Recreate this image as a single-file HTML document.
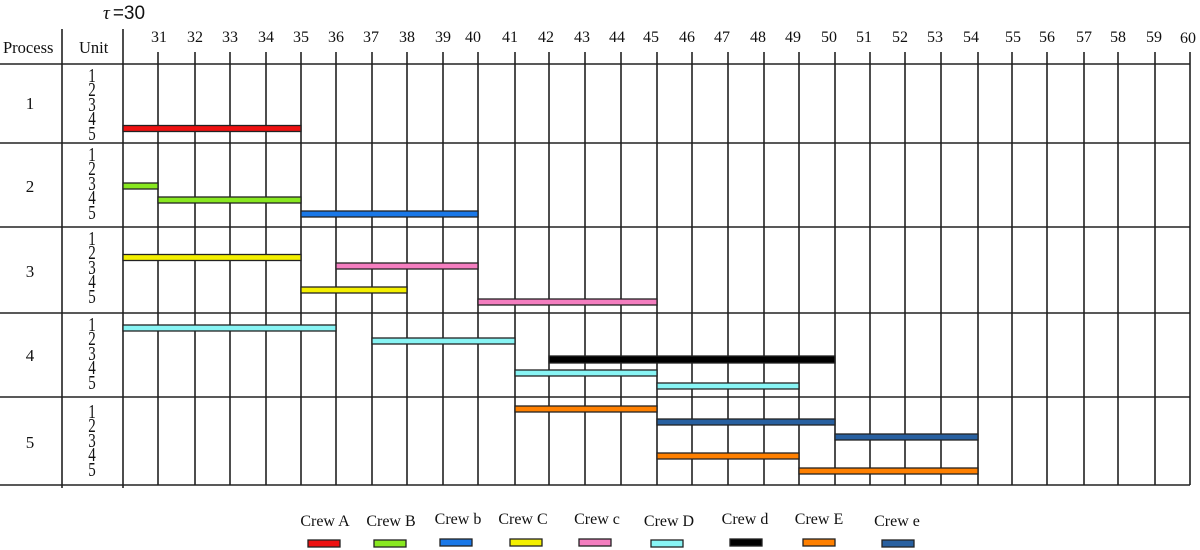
<!DOCTYPE html>
<html><head><meta charset="utf-8"><style>
html,body{margin:0;padding:0;background:#fff;}
svg{display:block;}
text{font-family:"Liberation Serif",serif;fill:#111;}
</style></head><body>
<svg width="1200" height="550" viewBox="0 0 1200 550" xmlns="http://www.w3.org/2000/svg">
<g stroke="#222" stroke-width="1.6">
<line x1="0" y1="64" x2="1190" y2="64"/>
<line x1="0" y1="143" x2="1190" y2="143"/>
<line x1="0" y1="227" x2="1190" y2="227"/>
<line x1="0" y1="313" x2="1190" y2="313"/>
<line x1="0" y1="397" x2="1190" y2="397"/>
<line x1="0" y1="485" x2="1190" y2="485"/>
<line x1="62" y1="29" x2="62" y2="488"/>
<line x1="123" y1="29" x2="123" y2="488"/>
<line x1="158" y1="52" x2="158" y2="485"/>
<line x1="195" y1="52" x2="195" y2="485"/>
<line x1="230" y1="52" x2="230" y2="485"/>
<line x1="266" y1="52" x2="266" y2="485"/>
<line x1="301" y1="52" x2="301" y2="485"/>
<line x1="336" y1="52" x2="336" y2="485"/>
<line x1="372" y1="52" x2="372" y2="485"/>
<line x1="407" y1="52" x2="407" y2="485"/>
<line x1="443" y1="52" x2="443" y2="485"/>
<line x1="478" y1="52" x2="478" y2="485"/>
<line x1="515" y1="52" x2="515" y2="485"/>
<line x1="549" y1="52" x2="549" y2="485"/>
<line x1="585" y1="52" x2="585" y2="485"/>
<line x1="621" y1="52" x2="621" y2="485"/>
<line x1="657" y1="52" x2="657" y2="485"/>
<line x1="692" y1="52" x2="692" y2="485"/>
<line x1="728" y1="52" x2="728" y2="485"/>
<line x1="764" y1="52" x2="764" y2="485"/>
<line x1="799" y1="52" x2="799" y2="485"/>
<line x1="835" y1="52" x2="835" y2="485"/>
<line x1="870" y1="52" x2="870" y2="485"/>
<line x1="905" y1="52" x2="905" y2="485"/>
<line x1="941" y1="52" x2="941" y2="485"/>
<line x1="978" y1="52" x2="978" y2="485"/>
<line x1="1012" y1="52" x2="1012" y2="485"/>
<line x1="1047" y1="52" x2="1047" y2="485"/>
<line x1="1084" y1="52" x2="1084" y2="485"/>
<line x1="1118" y1="52" x2="1118" y2="485"/>
<line x1="1155" y1="52" x2="1155" y2="485"/>
<line x1="1190" y1="52" x2="1190" y2="485"/>
</g>
<text x="103" y="19" font-size="19"><tspan font-style="italic">τ</tspan><tspan font-family="Liberation Sans, sans-serif" dx="3">=30</tspan></text>
<text x="3" y="53" font-size="16.5">Process</text>
<text x="79" y="53" font-size="16.5">Unit</text>
<g font-size="16" text-anchor="middle">
<text x="159" y="42">31</text><text x="195" y="42">32</text><text x="230" y="42">33</text><text x="266" y="42">34</text><text x="301" y="42">35</text><text x="336" y="42">36</text><text x="371" y="42">37</text><text x="407" y="42">38</text><text x="443" y="42">39</text><text x="473" y="42">40</text><text x="510" y="42">41</text><text x="546" y="42">42</text><text x="582" y="42">43</text><text x="617" y="42">44</text><text x="651" y="42">45</text><text x="687" y="42">46</text><text x="722" y="42">47</text><text x="758" y="42">48</text><text x="793" y="42">49</text><text x="829" y="42">50</text><text x="864" y="42">51</text><text x="900" y="42">52</text><text x="935" y="42">53</text><text x="971" y="42">54</text><text x="1013" y="42">55</text><text x="1047" y="42">56</text><text x="1084" y="42">57</text><text x="1118" y="42">58</text><text x="1154" y="42">59</text><text x="1188" y="43">60</text>
</g>
<g font-size="17" text-anchor="middle">
<text x="30" y="109">1</text><text x="30" y="192">2</text><text x="30" y="277">3</text><text x="30" y="361">4</text><text x="30" y="448">5</text>
</g>
<g font-size="15" text-anchor="middle">
<g transform="translate(0,0)">
<text x="92" y="82" transform="translate(92,82) scale(1,1.3) translate(-92,-82)">1</text>
<text x="92" y="96" transform="translate(92,96) scale(1,1.3) translate(-92,-96)">2</text>
<text x="92" y="111" transform="translate(92,111) scale(1,1.3) translate(-92,-111)">3</text>
<text x="92" y="125" transform="translate(92,125) scale(1,1.3) translate(-92,-125)">4</text>
<text x="92" y="140" transform="translate(92,140) scale(1,1.3) translate(-92,-140)">5</text>
</g>
<g transform="translate(0,79)">
<text x="92" y="82" transform="translate(92,82) scale(1,1.3) translate(-92,-82)">1</text>
<text x="92" y="96" transform="translate(92,96) scale(1,1.3) translate(-92,-96)">2</text>
<text x="92" y="111" transform="translate(92,111) scale(1,1.3) translate(-92,-111)">3</text>
<text x="92" y="125" transform="translate(92,125) scale(1,1.3) translate(-92,-125)">4</text>
<text x="92" y="140" transform="translate(92,140) scale(1,1.3) translate(-92,-140)">5</text>
</g>
<g transform="translate(0,163)">
<text x="92" y="82" transform="translate(92,82) scale(1,1.3) translate(-92,-82)">1</text>
<text x="92" y="96" transform="translate(92,96) scale(1,1.3) translate(-92,-96)">2</text>
<text x="92" y="111" transform="translate(92,111) scale(1,1.3) translate(-92,-111)">3</text>
<text x="92" y="125" transform="translate(92,125) scale(1,1.3) translate(-92,-125)">4</text>
<text x="92" y="140" transform="translate(92,140) scale(1,1.3) translate(-92,-140)">5</text>
</g>
<g transform="translate(0,249)">
<text x="92" y="82" transform="translate(92,82) scale(1,1.3) translate(-92,-82)">1</text>
<text x="92" y="96" transform="translate(92,96) scale(1,1.3) translate(-92,-96)">2</text>
<text x="92" y="111" transform="translate(92,111) scale(1,1.3) translate(-92,-111)">3</text>
<text x="92" y="125" transform="translate(92,125) scale(1,1.3) translate(-92,-125)">4</text>
<text x="92" y="140" transform="translate(92,140) scale(1,1.3) translate(-92,-140)">5</text>
</g>
<g transform="translate(0,336)">
<text x="92" y="82" transform="translate(92,82) scale(1,1.3) translate(-92,-82)">1</text>
<text x="92" y="96" transform="translate(92,96) scale(1,1.3) translate(-92,-96)">2</text>
<text x="92" y="111" transform="translate(92,111) scale(1,1.3) translate(-92,-111)">3</text>
<text x="92" y="125" transform="translate(92,125) scale(1,1.3) translate(-92,-125)">4</text>
<text x="92" y="140" transform="translate(92,140) scale(1,1.3) translate(-92,-140)">5</text>
</g>
</g>
<g stroke="#222" stroke-width="1.3">
<rect x="123" y="125.5" width="178" height="6" fill="#ee1111"/>
<rect x="123" y="183" width="35" height="6" fill="#88e820"/>
<rect x="158" y="197" width="143" height="6" fill="#88e820"/>
<rect x="301" y="211" width="177" height="6" fill="#1a78e8"/>
<rect x="123" y="254.5" width="178" height="6" fill="#f4f000"/>
<rect x="336" y="263" width="142" height="6" fill="#f47ec0"/>
<rect x="301" y="287" width="106" height="6" fill="#f4f000"/>
<rect x="478" y="299" width="179" height="6" fill="#f47ec0"/>
<rect x="123" y="325" width="213" height="6" fill="#88f4f4"/>
<rect x="372" y="338" width="143" height="6" fill="#88f4f4"/>
<rect x="549" y="356" width="286" height="7" fill="#000"/>
<rect x="515" y="370" width="142" height="6" fill="#88f4f4"/>
<rect x="657" y="383" width="142" height="6" fill="#88f4f4"/>
<rect x="515" y="406" width="142" height="6" fill="#ff8000"/>
<rect x="657" y="419" width="178" height="6" fill="#2860a0"/>
<rect x="835" y="434" width="143" height="6" fill="#2860a0"/>
<rect x="657" y="453" width="142" height="6" fill="#ff8000"/>
<rect x="799" y="468" width="179" height="6" fill="#ff8000"/>
</g>
<g font-size="16" text-anchor="middle">
<text x="325" y="526">Crew A</text><text x="391" y="526">Crew B</text><text x="458" y="524">Crew b</text><text x="523" y="524">Crew C</text><text x="597" y="524">Crew c</text><text x="669" y="526">Crew D</text><text x="745" y="524">Crew d</text><text x="819" y="524">Crew E</text><text x="897" y="526">Crew e</text>
</g>
<g stroke="#222" stroke-width="1.3">
<rect x="308" y="540" width="32" height="7" fill="#ee1111"/>
<rect x="374" y="540" width="32" height="7" fill="#88e820"/>
<rect x="440" y="539" width="32" height="7" fill="#1a78e8"/>
<rect x="510" y="539" width="32" height="7" fill="#f4f000"/>
<rect x="579" y="539" width="32" height="7" fill="#f47ec0"/>
<rect x="651" y="540" width="32" height="7" fill="#88f4f4"/>
<rect x="730" y="539" width="32" height="7" fill="#000"/>
<rect x="803" y="539" width="32" height="7" fill="#ff8000"/>
<rect x="882" y="540" width="32" height="7" fill="#2860a0"/>
</g>
</svg>
</body></html>
